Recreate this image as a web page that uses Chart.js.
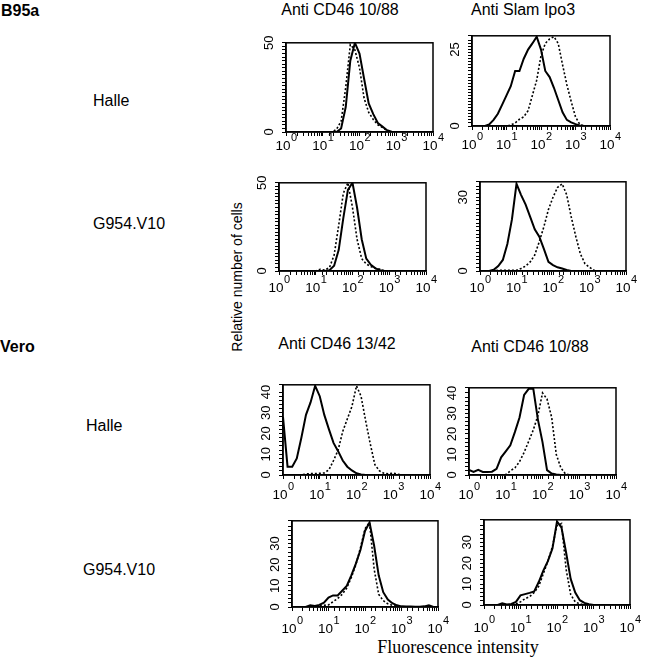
<!DOCTYPE html>
<html lang="en">
<head>
<meta charset="UTF-8">
<title>Fluorescence histograms</title>
<script src="https://cdn.jsdelivr.net/npm/chart.js@4.4.0/dist/chart.umd.min.js"></script>
<style>
  body { margin: 0; background: #fff; }
  #fig { position: relative; width: 647px; height: 658px; overflow: hidden;
         font-family: "Liberation Sans", Arial, sans-serif; color: #000; }
  #fig canvas { position: absolute; }
  .lbl { position: absolute; white-space: nowrap; font-size: 16px; line-height: 1; }
  .mid { transform: translate(-50%, -50%); }
  .row { transform: translateY(-50%); }
  .bold { font-weight: bold; }
</style>
</head>
<body>
<div id="fig">
  <!-- row / group labels -->
  <div class="lbl row bold" style="left:1px; top:11px">B95a</div>
  <div class="lbl row" style="left:93px; top:101px">Halle</div>
  <div class="lbl row" style="left:93px; top:224px">G954.V10</div>
  <div class="lbl row bold" style="left:0px; top:347px">Vero</div>
  <div class="lbl row" style="left:86px; top:426px">Halle</div>
  <div class="lbl row" style="left:83px; top:570px">G954.V10</div>

  <!-- antibody titles -->
  <div class="lbl mid" style="left:340px; top:10px">Anti CD46 10/88</div>
  <div class="lbl mid" style="left:523px; top:10px">Anti Slam Ipo3</div>
  <div class="lbl mid" style="left:337px; top:344px">Anti CD46 13/42</div>
  <div class="lbl mid" style="left:530px; top:347px">Anti CD46 10/88</div>

  <!-- shared axis titles -->
  <div class="lbl mid" style="left:237px; top:277px; font-size:14px; transform:translate(-50%,-50%) rotate(-90deg)">Relative number of cells</div>
  <div class="lbl mid" style="left:458px; top:647px; font-size:18px; font-family:'Liberation Serif','Times New Roman',serif">Fluorescence intensity</div>
</div>

<script>
    // fluorescence channels (1/8 decade steps, 10^0 .. 10^4)
    const channels = [1, 1.33, 1.78, 2.37, 3.16, 4.22, 5.62, 7.5,
                      10, 13.3, 17.8, 23.7, 31.6, 42.2, 56.2, 75,
                      100, 133, 178, 237, 316, 422, 562, 750,
                      1000, 1334, 1778, 2371, 3162, 4217, 5623, 7499, 10000];
    // labelled decades on the x axis: "10" with a raised exponent
    const xTickValues = [1, 10, 100, 1000, 10000];
    const xTickExponents = ['0', '1', '2', '3', '4'];

    // B95a, Halle
    const b95aHalleCd46Solid  = [0,0,0,0,0,0,0,0,0,0,0,0, 2,14,40,50,44,30,16,10,5,3,1,0.2, 0,0,0,0,0,0,0,0,0];
    const b95aHalleCd46Dotted = [0,0,0,0,0,0,0,0,0,0,0, 1.5,6,25,49,46,36,19,11,7,4,2.5,0.8, 0,0,0,0,0,0,0,0,0,0];
    const b95aHalleSlamSolid  = [0,0,0,0, 0.5,2,4,7,10,13,18,18,22,25,27,29.2,25,18,16,12.5,8.5,4.5,2,1.2,0.6,0.2, 0,0,0,0,0,0,0];
    const b95aHalleSlamDotted = [0,0,0,0,0,0,0,0,0, 0.3,1,2.2,3,5,10,15,23,27,28.5,29.2,27,20,13.5,8,3,0.5, 0,0,0,0,0,0,0];
    // B95a, G954.V10
    const b95aG954Cd46Solid   = [0,0,0,0,0,0,0,0,0,0,0, 0.5,3,12,30,46,50,36,18,7,3.5,1.5,0.5, 0,0,0,0,0,0,0,0,0,0];
    const b95aG954Cd46Dotted  = [0,0,0,0,0,0,0,0,0, 1,0.5,2,9,26,44,50,36,18,7,4,2.5,1.5,1, 0,0,0,0,0,0,0,0,0,0];
    const b95aG954SlamSolid   = [0,0,0, 0.5,2,4.5,11,21,35.5,31,27,22,17,14,9,3.7,2.4,1.5,1,0.4, 0,0,0,0,0,0,0,0,0,0,0,0,0];
    const b95aG954SlamDotted  = [0,0,0,0, 0.3,0.3,0.3,0.3,0.3,1,2,3.7,6.5,12,18,25,30,34,35.5,31,22,14,7,3,1.5,0.3, 0,0,0,0,0,0,0];
    // Vero, Halle
    const veroHalle1342Solid  = [28,4,4,8,18,29,35,43,38,29,22,15.5,11.5,7,4,2.2,0.8,0.3, 0,0,0,0,0,0,0,0,0,0,0,0,0,0,0];
    const veroHalle1342Dotted = [0,0,0,0,0, 0.5,0.7,0.7,0.8,1,2.5,7,12,21,27,33,43,38,26,15,5,2,0.8,0.5,1,0.3, 0,0,0,0,0,0,0];
    const veroHalle1088Solid  = [2.5,1.5,2.5,1.5,1.5,1.6,3,8.6,11.5,14.5,21,28,39,42,42,27,16,2.4,0.7,0.3, 0,0,0,0,0,0,0,0,0,0,0,0,0];
    const veroHalle1088Dotted = [0,0,0,0,0,0,0,0, 0.2,2,3.5,6.5,11,16.5,22,29,40,37,28,10,3.5,0.5, 0,0,0,0,0,0,0,0,0,0,0];
    // Vero, G954.V10
    const veroG9541342Solid   = [0,0,0,0,0.8,0.5,1,2,4.5,5.5,5.5,7.7,10,15,20.5,27,36,40,29,15,7,3.5,1.8,0.8,0.3,0.2,0.2,0.1,0.1,0.3,0.8,0,0];
    const veroG9541342Dotted  = [0,0,0,0,0, 0.5,0.5,0.8,1,2.5,4,6,9,14,20,28,37,40,18,6,3,1.5,0.8,0.3, 0,0,0,0,0,0,0,0,0];
    const veroG9541088Solid   = [0,0,0,0, 0.8,0.3,0.5,1.5,4.6,5.2,5.8,6.5,11,16.5,21,27,40,37,25,12.5,6,2.3,1,0.4, 0,0,0,0,0,0,0,0,0];
    const veroG9541088Dotted  = [0,0,0,0,0,0,0, 0.5,1.5,3,4,6,9,15,21,28,38,39,17,5,1.5,0.5, 0,0,0,0,0,0,0,0,0,0,0];

    // plot box (left, top, right, bottom), baseline of the x labels, y axis of each panel
    const panels = [
        { box: [286, 40, 433, 132],  xLabelY: 150, yMax: 50,   yStep: 2,   yLabels: [0, 50],             solid: b95aHalleCd46Solid, dotted: b95aHalleCd46Dotted },
        { box: [472, 33, 610, 126],  xLabelY: 149, yMax: 29.5, yStep: 1,   yLabels: [0, 25],             solid: b95aHalleSlamSolid, dotted: b95aHalleSlamDotted },
        { box: [279, 180, 426, 271], xLabelY: 292, yMax: 50,   yStep: 2,   yLabels: [0, 50],             solid: b95aG954Cd46Solid,  dotted: b95aG954Cd46Dotted },
        { box: [480, 179, 626, 271], xLabelY: 292, yMax: 36.3, yStep: 1.5, yLabels: [0, 10, 20, 30],     solid: b95aG954SlamSolid,  dotted: b95aG954SlamDotted },
        { box: [283, 382, 430, 475], xLabelY: 499, yMax: 43.5, yStep: 2,   yLabels: [0, 10, 20, 30, 40], solid: veroHalle1342Solid, dotted: veroHalle1342Dotted },
        { box: [469, 385, 616, 475], xLabelY: 499, yMax: 42.5, yStep: 2,   yLabels: [0, 10, 20, 30, 40], solid: veroHalle1088Solid, dotted: veroHalle1088Dotted },
        { box: [292, 518, 438, 607], xLabelY: 633, yMax: 40.8, yStep: 2,   yLabels: [0, 10, 20, 30, 40], solid: veroG9541342Solid,  dotted: veroG9541342Dotted },
        { box: [484, 517, 630, 605], xLabelY: 632, yMax: 40.8, yStep: 2,   yLabels: [0, 10, 20, 30, 40], solid: veroG9541088Solid,  dotted: veroG9541088Dotted }
    ];

    const FONT = '"Liberation Sans", Arial, sans-serif';
    Chart.defaults.font.family = FONT;
    Chart.defaults.color = '#000';

    // closed box around the plot area
    const frame = {
        id: 'frame',
        afterDraw(chart) {
            const { ctx, chartArea: a } = chart;
            ctx.save();
            ctx.strokeStyle = '#000';
            ctx.lineWidth = 1.5;
            ctx.strokeRect(a.left, a.top, a.right - a.left, a.bottom - a.top);
            ctx.restore();
        }
    };

    // "10" + superscript exponent under each decade tick of the x scale
    const expTicks = {
        id: 'expTicks',
        afterDraw(chart, args, opts) {
            const ctx = chart.ctx;
            const sx = chart.scales.x;
            const base = opts.baseline;
            ctx.save();
            ctx.fillStyle = '#000';
            ctx.textBaseline = 'alphabetic';
            ctx.textAlign = 'left';
            xTickValues.forEach((v, i) => {
                const px = sx.getPixelForValue(v);
                ctx.font = '13.5px ' + FONT;
                const w1 = ctx.measureText('10').width;
                ctx.font = '11px ' + FONT;
                const w2 = ctx.measureText(xTickExponents[i]).width;
                const x0 = px - (w1 + w2) / 2;
                ctx.font = '13.5px ' + FONT;
                ctx.fillText('10', x0, base);
                ctx.font = '11px ' + FONT;
                ctx.fillText(xTickExponents[i], x0 + w1 + 0.5, base - 9);
            });
            ctx.restore();
        }
    };

    const fig = document.getElementById('fig');
    const yW = 24, xH = 34, padT = 10, padR = 14;

    function makePanel(p) {
        const [L, T, R, B] = p.box;
        const cv = document.createElement('canvas');
        cv.width = R - L + yW + padR;
        cv.height = B - T + padT + xH;
        cv.style.left = (L - yW) + 'px';
        cv.style.top = (T - padT) + 'px';
        fig.appendChild(cv);

        new Chart(cv, {
            type: 'line',
            data: {
                labels: channels,
                datasets: [
                    { data: p.solid, borderColor: '#000', borderWidth: 2, pointRadius: 0, tension: 0 },
                    { data: p.dotted, borderColor: '#000', borderWidth: 1.6, borderDash: [2, 2], pointRadius: 0, tension: 0 }
                ]
            },
            options: {
                responsive: false,
                animation: false,
                events: [],
                layout: { padding: { top: padT, right: padR, left: 0, bottom: 0 } },
                plugins: {
                    legend: { display: false },
                    tooltip: { enabled: false },
                    expTicks: { baseline: p.xLabelY - (T - padT) }
                },
                scales: {
                    x: {
                        type: 'logarithmic', min: 1, max: 10000,
                        border: { color: '#000', width: 1.5 },
                        grid: { drawOnChartArea: false, drawTicks: true, tickLength: 4, color: '#000' },
                        ticks: {
                            autoSkip: false, maxRotation: 0, minRotation: 0, padding: 1,
                            font: { size: 13 },
                            callback: () => ''
                        },
                        afterFit: (s) => { s.height = xH; }
                    },
                    y: {
                        min: 0, max: p.yMax,
                        border: { color: '#000', width: 1.5 },
                        grid: { drawOnChartArea: false, drawTicks: true, tickLength: 4, color: '#000' },
                        ticks: {
                            stepSize: p.yStep, autoSkip: false, minRotation: 90, maxRotation: 90,
                            crossAlign: 'center', padding: 5,
                            font: { size: 13 },
                            callback: (v) => p.yLabels.includes(v) ? String(v) : ''
                        },
                        afterFit: (s) => { s.width = yW; }
                    }
                }
            },
            plugins: [frame, expTicks]
        });
    }

    panels.forEach(makePanel);
</script>
</body>
</html>
